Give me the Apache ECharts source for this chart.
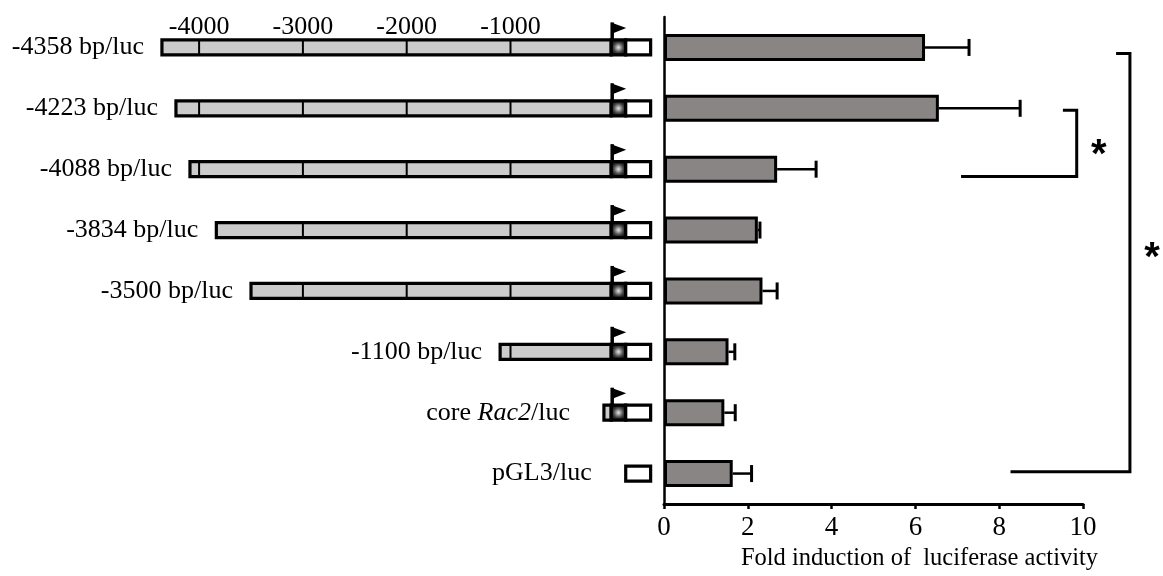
<!DOCTYPE html>
<html><head><meta charset="utf-8">
<script src="https://cdn.jsdelivr.net/npm/echarts@6/dist/echarts.min.js"></script>
<style>html,body{margin:0;padding:0;background:#fff}#c{width:1163px;height:576px}</style>
</head><body><div id="c"></div>
<script>
// ---------- data ----------
const categories = ['-4358 bp/luc','-4223 bp/luc','-4088 bp/luc','-3834 bp/luc','-3500 bp/luc','-1100 bp/luc','core Rac2/luc','pGL3/luc'];
const constructStarts = [-4358,-4223,-4088,-3834,-3500,-1100,-100,null]; // bp, null = no promoter
const scaleTicks = [-4000,-3000,-2000,-1000];
const foldInduction = [6.23,6.56,2.70,2.24,2.35,1.54,1.44,1.64];
const foldError = [1.05,1.94,0.93,0.05,0.35,0.15,0.26,0.45];
const xTicks = [0,2,4,6,8,10];
const significance = [
  {rows:[1,2], label:'*'},
  {rows:[0,7], label:'*'}
];

// ---------- layout / style constants ----------
const PROMOTER_END = -30, TSS_END = 110, LUC_END = 350; // bp
const bracketLayout = [
  {rowPos:[1.03, 2.12], topArm:9.52, bottomArm:7.09, spine:9.85, starRow:1.78},
  {rowPos:[0.10, 6.97], topArm:10.79, bottomArm:8.27, spine:11.12, starRow:3.47}
];
const SERIF = '"Liberation Serif", "Times New Roman", serif';
const LABEL_GAP = 18, LABEL_GAP_SHORT = 34;
const LABEL_SIZE = 26;

const chart = echarts.init(document.getElementById('c'), null, {renderer:'canvas'});

const tssFill = new echarts.graphic.RadialGradient(0.5, 0.5, 0.5, [
  {offset:0, color:'#e6e6e6'}, {offset:0.55, color:'#444'}, {offset:1, color:'#000'}
]);

// pixel position for a fractional row on a category axis (interpolated between band centres)
function coordAt(api, x, r) {
  const f = Math.min(Math.floor(r), categories.length - 2);
  const a = api.coord([x, f]), b = api.coord([x, f + 1]);
  return [a[0], a[1] + (r - f) * (b[1] - a[1])];
}

function renderConstruct(params, api) {
  const i = params.dataIndex;
  const start = constructStarts[i];
  const yc = api.coord([0, i])[1];
  const h = 15;
  const px = bp => api.coord([bp, i])[0];
  const children = [];
  let left;
  const xT = px(TSS_END), xL = px(LUC_END);
  if (start !== null) {
    const x0 = px(start), x1 = px(PROMOTER_END);
    children.push({type:'rect', shape:{x:x0, y:yc-h/2, width:x1-x0, height:h},
      style:{fill:'#cbcbcb', stroke:'#000', lineWidth:3.2}});
    scaleTicks.filter(t => t > start).forEach(t => {
      children.push({type:'line', shape:{x1:px(t), y1:yc-h/2, x2:px(t), y2:yc+h/2},
        style:{stroke:'#000', lineWidth:2}});
    });
    children.push({type:'rect', shape:{x:x1, y:yc-h/2, width:xT-x1, height:h},
      style:{fill:tssFill, stroke:'#000', lineWidth:3.2}});
    children.push({type:'line', shape:{x1:x1+1, y1:yc-h/2, x2:x1+1, y2:yc-25},
      style:{stroke:'#000', lineWidth:3.5}});
    children.push({type:'polygon', shape:{points:[[x1,yc-25],[x1+15,yc-19.5],[x1,yc-13.5]]},
      style:{fill:'#000'}});
    left = x0;
  } else {
    left = xT;
  }
  children.push({type:'rect', shape:{x:xT, y:yc-h/2, width:xL-xT, height:h},
    style:{fill:'#fff', stroke:'#000', lineWidth:3.2}});
  const short = start === null || start > -500;
  const rich = {i:{fontStyle:'italic', fontFamily:SERIF, fontSize:LABEL_SIZE, fill:'#000'}};
  const txt = categories[i].replace('Rac2', '{i|Rac2}');
  children.push({type:'text', style:{text:txt, x:left-(short?LABEL_GAP_SHORT:LABEL_GAP), y:yc,
    align:'right', verticalAlign:'middle', fontFamily:SERIF, fontSize:LABEL_SIZE, fill:'#000', rich:rich}});
  return {type:'group', children};
}

function renderScale(params, api) {
  const t = scaleTicks[params.dataIndex];
  const p = api.coord([t, 0]);
  return {type:'text', style:{text:String(t), x:p[0], y:p[1]-20, align:'center', verticalAlign:'middle',
    fontFamily:SERIF, fontSize:26, fill:'#000'}};
}

function renderError(params, api) {
  const i = params.dataIndex;
  const v = foldInduction[i], e = foldError[i];
  const p0 = api.coord([v, i]), p1 = api.coord([v+e, i]);
  return {type:'group', children:[
    {type:'line', shape:{x1:p0[0], y1:p0[1], x2:p1[0], y2:p1[1]}, style:{stroke:'#000', lineWidth:2.5}},
    {type:'line', shape:{x1:p1[0], y1:p1[1]-8.5, x2:p1[0], y2:p1[1]+8.5}, style:{stroke:'#000', lineWidth:3}}
  ]};
}

function renderBracket(params, api) {
  const k = params.dataIndex;
  const L = bracketLayout[k];
  const a = coordAt(api, L.topArm, L.rowPos[0]);
  const s1 = coordAt(api, L.spine, L.rowPos[0]);
  const s2 = coordAt(api, L.spine, L.rowPos[1]);
  const b = coordAt(api, L.bottomArm, L.rowPos[1]);
  const st = coordAt(api, L.spine, L.starRow);
  return {type:'group', children:[
    {type:'polyline', shape:{points:[a, s1, s2, b]}, style:{stroke:'#000', lineWidth:3, fill:null}},
    {type:'text', style:{text:significance[k].label, x:st[0]+22, y:st[1],
      align:'center', verticalAlign:'middle', fontFamily:'"Liberation Sans", Arial, sans-serif',
      fontWeight:'bold', fontSize:40, fill:'#000'}}
  ]};
}

chart.setOption({
  animation:false,
  backgroundColor:'#fff',
  grid:[
    {left:95.3, right:496.8, top:17, bottom:72},
    {left:664, right:80, top:17, bottom:72}
  ],
  xAxis:[
    {gridIndex:0, type:'value', min:-5000, max:500, show:false},
    {gridIndex:1, type:'value', min:xTicks[0], max:xTicks[xTicks.length-1], interval:xTicks[1]-xTicks[0],
      axisLine:{show:true, lineStyle:{color:'#000', width:3}},
      axisTick:{show:true, length:5, lineStyle:{color:'#000', width:2.5}},
      axisLabel:{fontFamily:SERIF, fontSize:27, color:'#000', margin:10},
      splitLine:{show:false},
      name:'Fold induction of  luciferase activity', nameLocation:'middle', nameGap:40,
      nameTextStyle:{fontFamily:SERIF, fontSize:24.5, color:'#000', padding:[0,0,0,92]}}
  ],
  yAxis:[
    {gridIndex:0, type:'category', data:categories, inverse:true, show:false},
    {gridIndex:1, type:'category', data:categories, inverse:true,
      axisLine:{show:true, lineStyle:{color:'#000', width:2.5}},
      axisTick:{show:false}, axisLabel:{show:false}, splitLine:{show:false}}
  ],
  series:[
    {type:'custom', xAxisIndex:0, yAxisIndex:0, clip:false, renderItem:renderConstruct,
      encode:{x:0, y:1}, data:categories.map((c,i)=>[0,i])},
    {type:'custom', xAxisIndex:0, yAxisIndex:0, clip:false, renderItem:renderScale,
      encode:{x:0, y:1}, data:scaleTicks.map(t=>[t,0])},
    {type:'bar', xAxisIndex:1, yAxisIndex:1, data:foldInduction, barWidth:27,
      itemStyle:{color:'#898584', borderColor:'#000', borderWidth:3}},
    {type:'custom', xAxisIndex:1, yAxisIndex:1, clip:false, renderItem:renderError,
      encode:{x:0, y:1}, data:foldInduction.map((v,i)=>[v+foldError[i], i]), z:3},
    {type:'custom', xAxisIndex:1, yAxisIndex:1, clip:false, renderItem:renderBracket,
      encode:{x:0, y:1}, data:significance.map((s,k)=>[bracketLayout[k].spine, s.rows[0]])}
  ]
});
</script></body></html>
